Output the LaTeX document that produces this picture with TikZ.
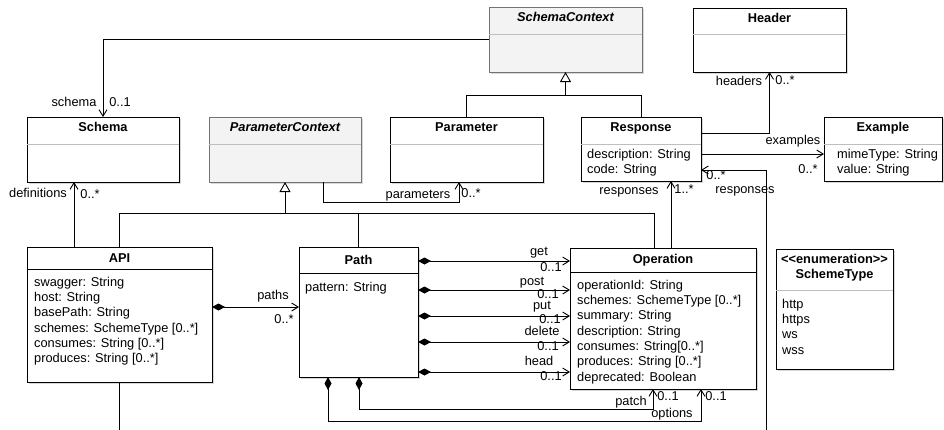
\documentclass[tikz,border=0pt]{standalone}
\usepackage{fontspec}
\setmainfont{Liberation Sans}
\usepackage{tikz}
\usetikzlibrary{%
	calc,%
	arrows.meta,%
	shadows
}

\definecolor{abstractfill}{RGB}{243,243,243}
\definecolor{abstractline}{RGB}{115,115,115}
\definecolor{sepgray}{RGB}{190,190,190}

\tikzset{
	umltext/.style={font=\fontsize{12.8pt}{15.3pt}\selectfont, inner sep=0pt, text height=9.4pt, text depth=2.9pt},
	classbox/.style={draw=black, line width=1pt, fill=white, anchor=north west, inner sep=0pt, outer sep=0pt,
		drop shadow={shadow xshift=1.5pt, shadow yshift=-1.5pt, fill=black!30}},
	abstractbox/.style={classbox, draw=abstractline, fill=abstractfill},
	classname/.style={umltext, font=\fontsize{12.8pt}{15.3pt}\selectfont\bfseries},
	abstractname/.style={umltext, font=\fontsize{12.8pt}{15.3pt}\selectfont\bfseries\itshape},
	attr/.style={umltext, anchor=west},
	lbl/.style={umltext},
	link/.style={draw, line width=0.9pt},
	assoc/.style={link, -{Straight Barb[length=6.5pt,width=8pt]}},
	compo/.style={link, {Diamond[length=13pt,width=7pt]}-{Straight Barb[length=6.5pt,width=8pt]}},
	inherit/.style={link, -{Triangle[open,length=10pt,width=11pt,fill=white]}}
}

\begin{document}
\begin{tikzpicture}[x=1pt,y=-1pt]
	\useasboundingbox (0,0) rectangle (944,429);
	\clip (0,0) rectangle (944,429);

	% Classes
	\node[abstractbox, minimum width=153pt, minimum height=65pt] (schemactx) at (489,7) {};
	\node[classbox, minimum width=153pt, minimum height=64pt] (header) at (693,8) {};
	\node[classbox, minimum width=152pt, minimum height=65pt] (schema) at (27,117) {};
	\node[abstractbox, minimum width=152pt, minimum height=65pt] (paramctx) at (209,117) {};
	\node[classbox, minimum width=153pt, minimum height=65pt] (parameter) at (390,117) {};
	\node[classbox, minimum width=120pt, minimum height=64pt] (response) at (581,117) {};
	\node[classbox, minimum width=118pt, minimum height=64pt] (example) at (824,117) {};
	\node[classbox, minimum width=185pt, minimum height=135pt] (api) at (27,247) {};
	\node[classbox, minimum width=119pt, minimum height=130pt] (path) at (299,247) {};
	\node[classbox, minimum width=186pt, minimum height=141pt] (operation) at (570,248) {};
	\node[classbox, minimum width=117pt, minimum height=120pt] (schemetype) at (776,249) {};

	% Compartment lines
	\foreach \cls/\y/\col in {schemactx/34/sepgray, header/34/sepgray, schema/144/sepgray,
		paramctx/144/sepgray, parameter/144/sepgray, response/144/sepgray, example/144/sepgray,
		api/269/black, path/273/black, operation/272/black, schemetype/290/sepgray}
	\draw[draw=\col, line width=1pt] (\cls.west |- 0,\y) -- (\cls.east |- 0,\y);

	% Class names
	\node[abstractname] (schemactx-name) at (schemactx.north |- 0,18) {SchemaContext};
	\node[classname] (header-name) at (header.north |- 0,19) {Header};
	\node[classname] (schema-name) at (schema.north |- 0,128) {Schema};
	\node[abstractname] (paramctx-name) at (paramctx.north |- 0,128) {ParameterContext};
	\node[classname] (parameter-name) at (parameter.north |- 0,128) {Parameter};
	\node[classname] (response-name) at (response.north |- 0,128) {Response};
	\node[classname] (example-name) at (example.north |- 0,128) {Example};
	\node[classname] (api-name) at (api.north |- 0,259) {API};
	\node[classname] (path-name) at (path.north |- 0,261) {Path};
	\node[classname] (operation-name) at (operation.north |- 0,260) {Operation};
	\node[classname] (schemetype-stereo) at (schemetype.north |- 0,260) {<{}<enumeration>{}>};
	\node[classname] (schemetype-name) at (schemetype.north |- 0,275) {SchemeType};

	% Attributes
	\foreach \a [count=\i] in {{description: String}, {code: String}}
	\node[attr] (response-attr-\i) at ($(response.north west)+(6,{22.7+15.3*\i})$) {\a};
	\foreach \a [count=\i] in {{mimeType: String}, {value: String}}
	\node[attr] (example-attr-\i) at ($(example.north west)+(13,{22.7+15.3*\i})$) {\a};
	\foreach \a [count=\i] in {{swagger: String}, {host: String}, {basePath: String},
		{schemes: SchemeType [0..*]}, {consumes: String [0..*]}, {produces: String [0..*]}}
	\node[attr] (api-attr-\i) at ($(api.north west)+(7,{20.7+15.3*\i})$) {\a};
	\node[attr] (path-attr-1) at ($(path.north west)+(6,41)$) {pattern: String};
	\foreach \a [count=\i] in {{operationId: String}, {schemes: SchemeType [0..*]}, {summary: String},
		{description: String}, {consumes: String[0..*]}, {produces: String [0..*]}, {deprecated: Boolean}}
	\node[attr] (operation-attr-\i) at ($(operation.north west)+(7,{22.7+15.3*\i})$) {\a};
	\foreach \a [count=\i] in {http, https, ws, wss}
	\node[attr] (schemetype-attr-\i) at ($(schemetype.north west)+(6,{40.7+15.3*\i})$) {\a};

	% Generalizations
	\draw[link] ($(api.north west)+(92,0)$) |- ($(operation.north west)+(84,-35)$) -- ($(operation.north west)+(84,0)$);
	\draw[link] (path.north) -- (path.north |- 0,213);
	\draw[inherit] (paramctx.south |- 0,213) -- (paramctx.south);
	\draw[link] (parameter.north) |- (response.north |- 0,95) -- (response.north);
	\draw[inherit] (schemactx.south |- 0,95) -- (schemactx.south);

	% Associations
	\draw[assoc] (schemactx.west) -| (schema.north);
	\draw[assoc] ($(api.north west)+(47,0)$) -- ($(schema.south west)+(47,0)$);
	\draw[assoc] ($(paramctx.south west)+(114,0)$) |- ($(parameter.south west)+(69,20)$) -- ($(parameter.south west)+(69,0)$);
	\draw[assoc] ($(response.north east)+(0,16)$) -| (header.south);
	\draw[assoc] ($(response.north east)+(0,37)$) -- ($(example.north west)+(0,37)$);
	\draw[assoc] ($(operation.north west)+(101,0)$) -- ($(response.south west)+(90,0)$);
	\draw[assoc] ($(api.south west)+(92,0)$) |- (766,445) |- ($(response.north east)+(0,53)$);

	% Compositions
	\draw[compo] (api.east |- 0,307) -- (path.west |- 0,307);
	\foreach \y/\verb/\vx/\vy/\mx/\my in {261/get/539/252/551/268, 290/post/532/282/548/295,
		316/put/542/306/550/320, 342/delete/542/332/548/347, 372/head/539/362/551/377}
	{
		\draw[compo] (path.east |- 0,\y) -- (operation.west |- 0,\y);
		\node[lbl] (l-\verb) at (\vx,\vy) {\verb};
		\node[lbl] (m-\verb) at (\mx,\my) {0..1};
	}
	\draw[compo] ($(path.south west)+(60,0)$) |- ($(operation.south west)+(83,20)$) -- ($(operation.south west)+(83,0)$);
	\draw[compo] ($(path.south west)+(29,0)$) |- ($(operation.south west)+(131,32)$) -- ($(operation.south west)+(131,0)$);

	% Role names and multiplicities
	\node[lbl] (l-schema) at (74,103) {schema};
	\node[lbl] (m-schema) at (120,103) {0..1};
	\node[lbl] (l-defs) at (38,194) {definitions};
	\node[lbl] (m-defs) at (90,195) {0..*};
	\node[lbl] (l-params) at (418,195) {parameters};
	\node[lbl] (m-params) at (471,194) {0..*};
	\node[lbl] (l-headers) at (739,82) {headers};
	\node[lbl] (m-headers) at (785,81) {0..*};
	\node[lbl] (l-examples) at (793,141) {examples};
	\node[lbl] (m-examples) at (808,170) {0..*};
	\node[lbl] (l-opresp) at (629,191) {responses};
	\node[lbl] (m-opresp) at (684,190) {1..*};
	\node[lbl] (m-apiresp) at (716,176) {0..*};
	\node[lbl] (l-apiresp) at (745,190) {responses};
	\node[lbl] (l-paths) at (273,296) {paths};
	\node[lbl] (m-paths) at (284,320) {0..*};
	\node[lbl] (l-patch) at (631,402) {patch};
	\node[lbl] (m-patch) at (668,397) {0..1};
	\node[lbl] (l-options) at (672,414) {options};
	\node[lbl] (m-options) at (716,397) {0..1};
\end{tikzpicture}
\end{document}
